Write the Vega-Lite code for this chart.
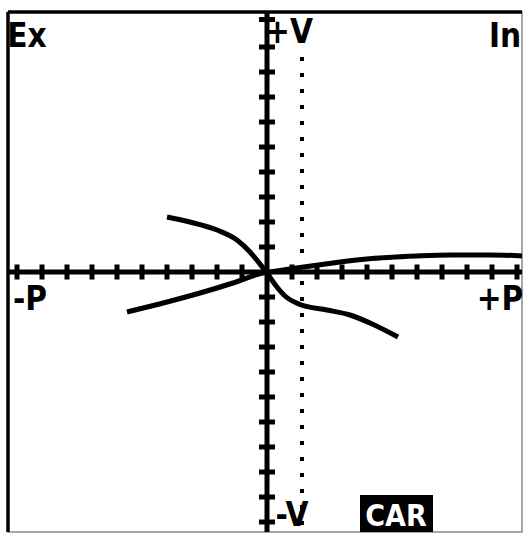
{
  "$schema": "https://vega.github.io/schema/vega-lite/v6.json",
  "width": 514,
  "height": 520,
  "autosize": {"type": "none"},
  "padding": {"left": 8, "top": 12, "right": 2, "bottom": 3},
  "background": "white",
  "config": {"view": {"stroke": "#8a8a8a", "strokeWidth": 1.5}},
  "datasets": {
    "curves": [
      {"curve": "A", "o": 1, "x": -4.0, "y": 2.2},
      {"curve": "A", "o": 2, "x": -3.08, "y": 2.0},
      {"curve": "A", "o": 3, "x": -2.0, "y": 1.68},
      {"curve": "A", "o": 4, "x": -1.2, "y": 1.28},
      {"curve": "A", "o": 5, "x": -0.68, "y": 0.8},
      {"curve": "A", "o": 6, "x": -0.28, "y": 0.32},
      {"curve": "A", "o": 7, "x": 0.0, "y": -0.04},
      {"curve": "A", "o": 8, "x": 0.32, "y": -0.5},
      {"curve": "A", "o": 9, "x": 0.72, "y": -0.96},
      {"curve": "A", "o": 10, "x": 1.32, "y": -1.3},
      {"curve": "A", "o": 11, "x": 2.4, "y": -1.52},
      {"curve": "A", "o": 12, "x": 3.32, "y": -1.72},
      {"curve": "A", "o": 13, "x": 4.12, "y": -2.04},
      {"curve": "A", "o": 14, "x": 5.24, "y": -2.6},
      {"curve": "B", "o": 1, "x": -5.6, "y": -1.6},
      {"curve": "B", "o": 2, "x": -4.0, "y": -1.2},
      {"curve": "B", "o": 3, "x": -2.68, "y": -0.84},
      {"curve": "B", "o": 4, "x": -1.36, "y": -0.44},
      {"curve": "B", "o": 5, "x": -0.16, "y": -0.04},
      {"curve": "B", "o": 6, "x": 0.12, "y": 0.0},
      {"curve": "B", "o": 7, "x": 1.32, "y": 0.18},
      {"curve": "B", "o": 8, "x": 2.64, "y": 0.36},
      {"curve": "B", "o": 9, "x": 4.0, "y": 0.52},
      {"curve": "B", "o": 10, "x": 6.0, "y": 0.64},
      {"curve": "B", "o": 11, "x": 7.32, "y": 0.68},
      {"curve": "B", "o": 12, "x": 8.92, "y": 0.68},
      {"curve": "B", "o": 13, "x": 10.28, "y": 0.64}
    ],
    "xticks": [
      {"x": -10, "y": 0}, {"x": -9, "y": 0}, {"x": -8, "y": 0}, {"x": -7, "y": 0}, {"x": -6, "y": 0},
      {"x": -5, "y": 0}, {"x": -4, "y": 0}, {"x": -3, "y": 0}, {"x": -2, "y": 0}, {"x": -1, "y": 0},
      {"x": 1, "y": 0}, {"x": 2, "y": 0}, {"x": 3, "y": 0}, {"x": 4, "y": 0}, {"x": 5, "y": 0},
      {"x": 6, "y": 0}, {"x": 7, "y": 0}, {"x": 8, "y": 0}, {"x": 9, "y": 0}, {"x": 10, "y": 0}
    ],
    "yticks": [
      {"x": 0, "y": -10}, {"x": 0, "y": -9}, {"x": 0, "y": -8}, {"x": 0, "y": -7}, {"x": 0, "y": -6},
      {"x": 0, "y": -5}, {"x": 0, "y": -4}, {"x": 0, "y": -3}, {"x": 0, "y": -2}, {"x": 0, "y": -1},
      {"x": 0, "y": 1}, {"x": 0, "y": 2}, {"x": 0, "y": 3}, {"x": 0, "y": 4}, {"x": 0, "y": 5},
      {"x": 0, "y": 6}, {"x": 0, "y": 7}, {"x": 0, "y": 8}, {"x": 0, "y": 9}, {"x": 0, "y": 10.1}
    ],
    "labels": [
      {"label": "Ex", "x": -9.6, "y": 9.0},
      {"label": "In", "x": 9.52, "y": 9.0},
      {"label": "+V", "x": 0.88, "y": 9.16},
      {"label": "-V", "x": 1.0, "y": -10.16},
      {"label": "-P", "x": -9.48, "y": -1.52},
      {"label": "+P", "x": 9.32, "y": -1.52}
    ],
    "box": [
      {"label": "CAR", "x": 3.72, "x2": 6.64, "y": -8.92, "y2": -10.4, "ty": -10.14, "tx": 5.16}
    ]
  },
  "layer": [
    {
      "data": {"values": [{}]},
      "mark": {"type": "rule", "color": "black", "strokeWidth": 3.5},
      "encoding": {
        "y": {"datum": 10.4, "type": "quantitative", "scale": {"domain": [-10.4, 10.4], "nice": false, "zero": false}, "axis": null}
      }
    },
    {
      "data": {"values": [{}]},
      "mark": {"type": "rule", "color": "black", "strokeWidth": 3.5},
      "encoding": {
        "x": {"datum": -10.36, "type": "quantitative", "scale": {"domain": [-10.36, 10.2], "nice": false, "zero": false}, "axis": null}
      }
    },
    {
      "data": {"values": [{}]},
      "mark": {"type": "rule", "color": "black", "strokeWidth": 5},
      "encoding": {
        "y": {"datum": 0, "type": "quantitative", "scale": {"domain": [-10.4, 10.4], "nice": false, "zero": false}, "axis": null}
      }
    },
    {
      "data": {"values": [{}]},
      "mark": {"type": "rule", "color": "black", "strokeWidth": 5},
      "encoding": {
        "x": {"datum": 0, "type": "quantitative", "scale": {"domain": [-10.36, 10.2], "nice": false, "zero": false}, "axis": null}
      }
    },
    {
      "data": {"values": [{}]},
      "mark": {"type": "rule", "color": "black", "strokeWidth": 4, "strokeDash": [4, 12]},
      "encoding": {
        "x": {"datum": 1.4, "type": "quantitative", "scale": {"domain": [-10.36, 10.2], "nice": false, "zero": false}, "axis": null},
        "y": {"datum": 8.6, "type": "quantitative", "scale": {"domain": [-10.4, 10.4], "nice": false, "zero": false}, "axis": null},
        "y2": {"datum": -10.3}
      }
    },
    {
      "data": {"name": "xticks"},
      "mark": {"type": "tick", "orient": "vertical", "color": "black", "size": 15, "thickness": 5, "opacity": 1},
      "encoding": {
        "x": {"field": "x", "type": "quantitative", "scale": {"domain": [-10.36, 10.2], "nice": false, "zero": false}, "axis": null},
        "y": {"field": "y", "type": "quantitative", "scale": {"domain": [-10.4, 10.4], "nice": false, "zero": false}, "axis": null}
      }
    },
    {
      "data": {"name": "yticks"},
      "mark": {"type": "tick", "orient": "horizontal", "color": "black", "size": 16, "thickness": 5, "opacity": 1},
      "encoding": {
        "x": {"field": "x", "type": "quantitative", "scale": {"domain": [-10.36, 10.2], "nice": false, "zero": false}, "axis": null},
        "y": {"field": "y", "type": "quantitative", "scale": {"domain": [-10.4, 10.4], "nice": false, "zero": false}, "axis": null}
      }
    },
    {
      "data": {"name": "curves"},
      "mark": {"type": "line", "color": "black", "strokeWidth": 5, "strokeCap": "butt", "interpolate": "monotone", "clip": true},
      "encoding": {
        "x": {"field": "x", "type": "quantitative", "scale": {"domain": [-10.36, 10.2], "nice": false, "zero": false}, "axis": null},
        "y": {"field": "y", "type": "quantitative", "scale": {"domain": [-10.4, 10.4], "nice": false, "zero": false}, "axis": null},
        "detail": {"field": "curve", "type": "nominal"},
        "order": {"field": "o", "type": "quantitative"}
      }
    },
    {
      "data": {"name": "labels"},
      "mark": {"type": "text", "color": "black", "font": "DejaVu Sans Condensed, DejaVu Sans, sans-serif", "fontWeight": "bold", "fontSize": 33, "align": "center", "baseline": "alphabetic"},
      "encoding": {
        "x": {"field": "x", "type": "quantitative", "scale": {"domain": [-10.36, 10.2], "nice": false, "zero": false}, "axis": null},
        "y": {"field": "y", "type": "quantitative", "scale": {"domain": [-10.4, 10.4], "nice": false, "zero": false}, "axis": null},
        "text": {"field": "label", "type": "nominal"}
      }
    },
    {
      "data": {"name": "box"},
      "mark": {"type": "rect", "color": "black", "clip": true},
      "encoding": {
        "x": {"field": "x", "type": "quantitative", "scale": {"domain": [-10.36, 10.2], "nice": false, "zero": false}, "axis": null},
        "x2": {"field": "x2"},
        "y": {"field": "y", "type": "quantitative", "scale": {"domain": [-10.4, 10.4], "nice": false, "zero": false}, "axis": null},
        "y2": {"field": "y2"}
      }
    },
    {
      "data": {"name": "box"},
      "mark": {"type": "text", "color": "white", "font": "DejaVu Sans Condensed, DejaVu Sans, sans-serif", "fontWeight": "bold", "fontSize": 30, "align": "center", "baseline": "alphabetic"},
      "encoding": {
        "x": {"field": "tx", "type": "quantitative", "scale": {"domain": [-10.36, 10.2], "nice": false, "zero": false}, "axis": null},
        "y": {"field": "ty", "type": "quantitative", "scale": {"domain": [-10.4, 10.4], "nice": false, "zero": false}, "axis": null},
        "text": {"field": "label", "type": "nominal"}
      }
    }
  ]
}
